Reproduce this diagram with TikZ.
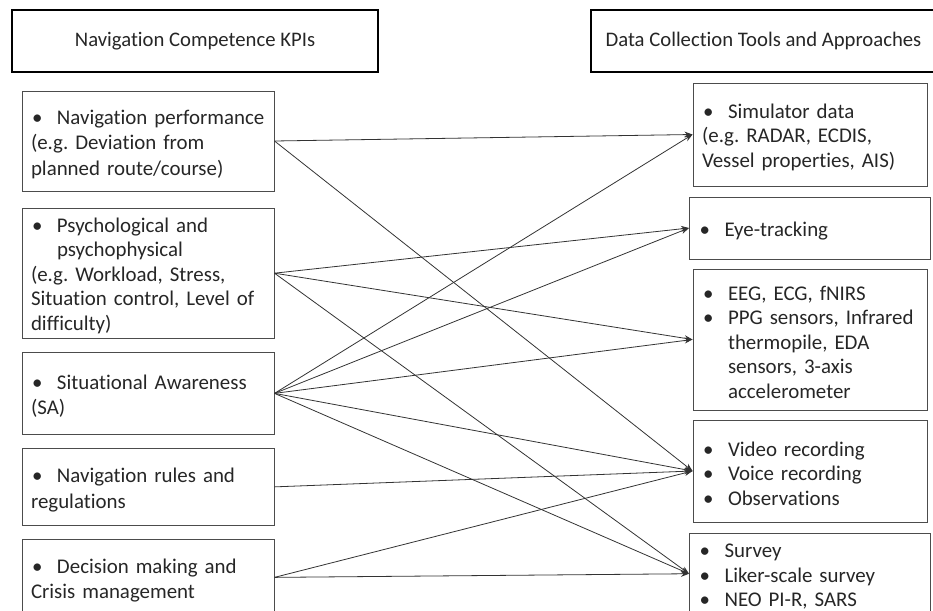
\documentclass[tikz,border=0pt]{standalone}
\usepackage{fontspec}
\setmainfont{Carlito}[RawFeature=-liga]
\usetikzlibrary{arrows.meta,positioning}
\setlength{\parskip}{0pt}
\frenchspacing

\newcommand{\bitem}[1]{\par\noindent\hangindent 26pt\hangafter 1\relax\hbox to 26pt{\hskip 1pt\textbullet\hfil}#1\par}
\newcommand{\plainline}[1]{\par\noindent #1\par}
\newcommand{\liftup}{\par\nointerlineskip\hbox{\vrule width 0pt height 0pt depth 5pt}}

\begin{document}
\begin{tikzpicture}[->,>={Stealth[length=8pt,width=6pt]},x=1pt,y=1pt,
  thin,node distance=13pt,
  head node/.style={rectangle,draw=black,line width=2.6pt,minimum height=62pt,
    text=black!85,font=\fontsize{20.7}{25.5}\selectfont},
  kpi node/.style={rectangle,draw=black!70,line width=1pt,text width=234pt,
    inner xsep=9pt,inner ysep=0pt,align=left,text=black!85,
    font=\fontsize{20.9}{25.5}\selectfont\raggedright\frenchspacing,
    execute at end node=\liftup},
  tool node/.style={kpi node,text width=216pt,
    font=\fontsize{20.9}{24.6}\selectfont\raggedright\frenchspacing}]

  \useasboundingbox (0,0) rectangle (933,-610);

  % headers
  \node[head node,minimum width=366pt] (kpis) at (195,-41) {Navigation Competence KPIs};
  \node[head node,minimum width=345pt] (tools) at (763.5,-41) {Data Collection Tools and Approaches};

  % KPIs
  \node[kpi node,minimum height=100pt] (perf) at (148,-141)
    {\bitem{Navigation performance}\plainline{(e.g. Deviation from\newline planned route/course)}};
  \node[kpi node,minimum height=128pt,
    font=\fontsize{20.9}{24.4}\selectfont\raggedright\frenchspacing] (psych) [below=16pt of perf]
    {\bitem{Psychological and\newline psychophysical}\plainline{(e.g. Workload, Stress,\newline Situation control, Level of\newline difficulty)}};
  \node[kpi node,minimum height=82pt] (sa) [below=of psych]
    {\bitem{Situational Awareness}\plainline{(SA)}};
  \node[kpi node,minimum height=77pt] (rules) [below=of sa]
    {\bitem{Navigation rules and}\plainline{regulations}};
  \node[kpi node,minimum height=76pt] (crisis) [below=of rules]
    {\bitem{Decision making and}\plainline{Crisis management}};

  % tools
  \node[tool node,minimum height=103pt] (sim) at (810,-134.5)
    {\bitem{Simulator data}\plainline{(e.g. RADAR, ECDIS,\newline Vessel properties, AIS)}};
  \node[tool node,text width=223pt,minimum height=62pt] (eye) [below=10pt of sim]
    {\bitem{Eye-tracking}};
  \node[tool node,minimum height=141pt] (eeg) [below=9pt of eye]
    {\bitem{EEG, ECG, fNIRS}\bitem{PPG sensors, Infrared\newline thermopile, EDA\newline sensors, 3-axis\newline accelerometer}};
  \node[tool node,minimum height=102pt] (video) [below=9pt of eeg]
    {\bitem{Video recording}\bitem{Voice recording}\bitem{Observations}};
  \node[tool node,text width=223pt,minimum height=78pt] (survey) [below=10pt of video]
    {\bitem{Survey}\bitem{Liker-scale survey}\bitem{NEO PI-R, SARS}};

  \path[color=black!80,line width=0.8pt]
    (perf.east) edge (sim.west)
    (perf.east) edge (video.west)
    (psych.east) edge (eye.west)
    (psych.east) edge (eeg.west)
    (psych.east) edge (survey.west)
    (sa.east) edge (sim.west)
    (sa.east) edge (eye.west)
    (sa.east) edge (eeg.west)
    (sa.east) edge (video.west)
    (sa.east) edge (survey.west)
    (rules.east) edge (video.west)
    (crisis.east) edge (video.west)
    (crisis.east) edge (survey.west)
    ;

\end{tikzpicture}
\end{document}
